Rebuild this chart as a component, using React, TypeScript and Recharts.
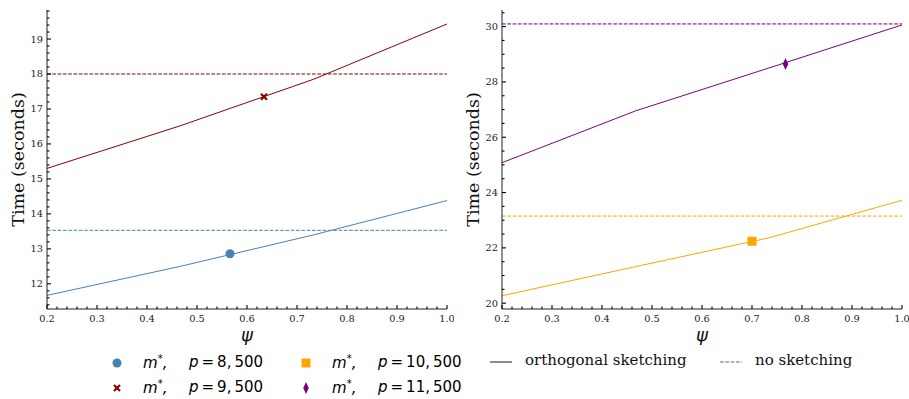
import React from "react";
import {
  ComposedChart,
  Line,
  Scatter,
  XAxis,
  YAxis,
  ReferenceLine,
} from "recharts";

// psi grid used for the orthogonal sketching curves
const PSI = [0.2, 0.4667, 0.7333, 1.0];
const T_8500 = [11.67, 12.5, 13.4, 14.38];
const T_9500 = [15.3, 16.52, 17.85, 19.43];
const T_10500 = [20.27, 21.32, 22.36, 23.72];
const T_11500 = [25.08, 26.95, 28.5, 30.06];

// no sketching baselines
const NOSKETCH_8500 = 13.53;
const NOSKETCH_9500 = 18.0;
const NOSKETCH_10500 = 23.15;
const NOSKETCH_11500 = 30.1;

// optimal m* points (psi, time)
const OPT_8500 = [0.566, 12.86];
const OPT_9500 = [0.634, 17.35];
const OPT_10500 = [0.7, 22.24];
const OPT_11500 = [0.767, 28.65];

const X_MAJOR = [0.2, 0.3, 0.4, 0.5, 0.6, 0.7, 0.8, 0.9, 1.0];
const Y_LEFT_MAJOR = [12, 13, 14, 15, 16, 17, 18, 19];
const Y_RIGHT_MAJOR = [20, 22, 24, 26, 28, 30];

const X_DOMAIN = [0.2, 1.0];
const Y_LEFT_DOMAIN = [11.28, 19.83];
const Y_RIGHT_DOMAIN = [19.79, 30.6];

const BLUE = "#4682b4";
const RED = "#8b0000";
const ORANGE = "#ffa500";
const PURPLE = "#800080";

const SERIF = "'DejaVu Serif', serif";
const MATH = "'DejaVu Sans', sans-serif";

// all ticks (major + minor) between lo and hi with given minor step
const allTicks = (lo: number, hi: number, step: number) => {
  const out: number[] = [];
  const start = Math.ceil(lo / step - 1e-9);
  const end = Math.floor(hi / step + 1e-9);
  for (let i = start; i <= end; i++) out.push(Number((i * step).toFixed(4)));
  return out;
};

const isMajor = (v: number, majors: number[]) =>
  majors.some((m) => Math.abs(m - v) < 1e-6);

const toRows = (xs: number[], ys: number[]) =>
  xs.map((x, i) => ({ psi: x, t: ys[i] }));

const TICK_COLOR = "#222";

const makeTick =
  (side: "bottom" | "top" | "left" | "right", majors: number[], fmt?: (v: number) => string) =>
  (props: any) => {
    const { payload } = props;
    const x = Number(props.x);
    const y = Number(props.y);
    const v = payload.value;
    const major = isMajor(v, majors);
    const len = major ? 4 : 2.5;
    let d = "";
    if (side === "bottom") d = `M${x},${y}V${y - len}`;
    else if (side === "top") d = `M${x},${y}V${y + len}`;
    else if (side === "left") d = `M${x},${y}H${x + len}`;
    else d = `M${x},${y}H${x - len}`;
    let label = null;
    if (major && fmt && side === "bottom")
      label = (
        <text x={x} y={y + 12.5} textAnchor="middle" fontSize={9.8} fontFamily={SERIF} fill={TICK_COLOR}>
          {fmt(v)}
        </text>
      );
    if (major && fmt && side === "left")
      label = (
        <text x={x - 4} y={y + 3.5} textAnchor="end" fontSize={9.8} fontFamily={SERIF} fill={TICK_COLOR}>
          {fmt(v)}
        </text>
      );
    return (
      <g>
        <path d={d} stroke="#000" strokeWidth={1.1} fill="none" />
        {label}
      </g>
    );
  };

const Circle = (p: any) => <circle cx={p.cx} cy={p.cy} r={4.5} fill={BLUE} />;
const Cross = (p: any) => (
  <g stroke={RED} strokeWidth={2.2}>
    <line x1={p.cx - 3} y1={p.cy - 3} x2={p.cx + 3} y2={p.cy + 3} />
    <line x1={p.cx - 3} y1={p.cy + 3} x2={p.cx + 3} y2={p.cy - 3} />
  </g>
);
const Square = (p: any) => (
  <rect x={p.cx - 4.5} y={p.cy - 4.5} width={9} height={9} fill={ORANGE} />
);
const Diamond = (p: any) => (
  <polygon
    points={`${p.cx},${p.cy - 6} ${p.cx + 2.8},${p.cy} ${p.cx},${p.cy + 6} ${p.cx - 2.8},${p.cy}`}
    fill={PURPLE}
  />
);

const yLabel = (props: any) => {
  const vb = props.viewBox;
  const cx = vb.x + 18;
  const cy = vb.y + vb.height / 2;
  return (
    <text
      x={cx}
      y={cy}
      transform={`rotate(-90, ${cx}, ${cy})`}
      textAnchor="middle"
      dominantBaseline="central"
      fontSize={17.5}
      fontFamily={SERIF}
      fill="#111"
    >
      Time (seconds)
    </text>
  );
};

const xLabel = (props: any) => {
  const vb = props.viewBox;
  return (
    <text
      x={vb.x + vb.width / 2}
      y={vb.y + 32}
      textAnchor="middle"
      fontSize={18}
      fontStyle="italic"
      fontFamily={MATH}
      fill="#111"
    >
      ψ
    </text>
  );
};

interface PanelProps {
  left: number;
  yDomain: number[];
  yMajors: number[];
  yMinorStep: number;
  series: { ys: number[]; base: number; opt: number[]; color: string; shape: any; dashOpacity?: number }[];
}

const Panel = ({ left, yDomain, yMajors, yMinorStep, series }: PanelProps) => {
  const xTicks = allTicks(X_DOMAIN[0], X_DOMAIN[1], 0.02);
  const yTicks = allTicks(yDomain[0], yDomain[1], yMinorStep);
  return (
    <div style={{ position: "absolute", left, top: 0 }}>
      <ComposedChart width={454} height={350} margin={{ top: 10, right: 7, left: 0, bottom: 0 }}>
        <XAxis
          xAxisId="top"
          orientation="top"
          type="number"
          dataKey="psi"
          domain={X_DOMAIN}
          ticks={xTicks}
          interval={0}
          height={0}
          tickSize={0}
          tickMargin={0}
          allowDataOverflow
          axisLine={{ stroke: "#222" }}
          tick={makeTick("top", X_MAJOR)}
        />
        <XAxis
          type="number"
          dataKey="psi"
          domain={X_DOMAIN}
          ticks={xTicks}
          interval={0}
          height={41}
          tickSize={0}
          tickMargin={0}
          allowDataOverflow
          axisLine={{ stroke: "#222" }}
          tick={makeTick("bottom", X_MAJOR, (v) => v.toFixed(1))}
          label={{ content: xLabel }}
        />
        <YAxis
          type="number"
          domain={yDomain}
          ticks={yTicks}
          interval={0}
          width={47}
          tickSize={0}
          tickMargin={0}
          allowDataOverflow
          axisLine={{ stroke: "#222" }}
          tick={makeTick("left", yMajors, (v) => String(v))}
          label={{ content: yLabel }}
        />
        <YAxis
          yAxisId="right"
          orientation="right"
          type="number"
          domain={yDomain}
          ticks={yTicks}
          interval={0}
          width={0}
          tickSize={0}
          tickMargin={0}
          allowDataOverflow
          axisLine={{ stroke: "#222" }}
          tick={makeTick("right", yMajors)}
        />
        {series.map((s, i) => (
          <ReferenceLine
            key={`ref-${i}`}
            y={s.base}
            stroke={s.color}
            strokeOpacity={s.dashOpacity ?? 1}
            strokeWidth={s.dashOpacity ? 1.6 : 1}
            strokeDasharray="3.7 1.6"
          />
        ))}
        {series.map((s, i) => (
          <Line
            key={`line-${i}`}
            data={toRows(PSI, s.ys)}
            dataKey="t"
            stroke={s.color}
            strokeWidth={1}
            dot={false}
            isAnimationActive={false}
          />
        ))}
        {series.map((s, i) => (
          <Scatter
            key={`opt-${i}`}
            data={[{ psi: s.opt[0], t: s.opt[1] }]}
            dataKey="t"
            shape={s.shape}
            isAnimationActive={false}
          />
        ))}
      </ComposedChart>
    </div>
  );
};

const Marker = ({ children }: { children: React.ReactNode }) => (
  <svg width={14} height={14} style={{ position: "absolute", left: -7, top: -7 }}>
    {children}
  </svg>
);

const mathLabel = (p: string) => (
  <>
    <span style={{ position: "absolute", left: 0, top: -10, fontFamily: MATH, fontSize: 15, fontStyle: "italic", whiteSpace: "nowrap" }}>
      m<sup style={{ fontSize: 10, fontStyle: "normal" }}>*</sup>,
    </span>
    <span style={{ position: "absolute", left: 46, top: -10, fontFamily: MATH, fontSize: 15, whiteSpace: "nowrap" }}>
      <i>p</i>&thinsp;=&thinsp;{p}
    </span>
  </>
);

const LEGEND_ROWS = [
  { x: 117, y: 363, shape: <Circle cx={7} cy={7} />, p: "8,\u2009500" },
  { x: 117, y: 388, shape: <Cross cx={7} cy={7} />, p: "9,\u2009500" },
  { x: 306, y: 363, shape: <Square cx={7} cy={7} />, p: "10,\u2009500" },
  { x: 306, y: 388, shape: <Diamond cx={7} cy={7} />, p: "11,\u2009500" },
];

export default function App() {
  return (
    <div style={{ position: "relative", width: 909, height: 399, background: "#fff", overflow: "hidden" }}>
      <style>{`body{margin:0}`}</style>
      <Panel
        left={0}
        yDomain={Y_LEFT_DOMAIN}
        yMajors={Y_LEFT_MAJOR}
        yMinorStep={0.2}
        series={[
          { ys: T_8500, base: NOSKETCH_8500, opt: OPT_8500, color: BLUE, shape: Circle },
          { ys: T_9500, base: NOSKETCH_9500, opt: OPT_9500, color: RED, shape: Cross },
        ]}
      />
      <Panel
        left={455}
        yDomain={Y_RIGHT_DOMAIN}
        yMajors={Y_RIGHT_MAJOR}
        yMinorStep={0.5}
        series={[
          { ys: T_10500, base: NOSKETCH_10500, opt: OPT_10500, color: ORANGE, shape: Square },
          { ys: T_11500, base: NOSKETCH_11500, opt: OPT_11500, color: PURPLE, shape: Diamond, dashOpacity: 0.6 },
        ]}
      />
      {LEGEND_ROWS.map((r, i) => (
        <div key={i} style={{ position: "absolute", left: r.x, top: r.y }}>
          <Marker>{r.shape}</Marker>
          <div style={{ position: "absolute", left: 26, top: 0 }}>{mathLabel(r.p)}</div>
        </div>
      ))}
      <svg width={60} height={10} style={{ position: "absolute", left: 490, top: 357 }}>
        <line x1={0} x2={22} y1={5} y2={5} stroke="#666" strokeWidth={1.5} />
      </svg>
      <span style={{ position: "absolute", left: 525, top: 351, fontFamily: SERIF, fontSize: 15, whiteSpace: "nowrap", color: "#111" }}>
        orthogonal sketching
      </span>
      <svg width={60} height={10} style={{ position: "absolute", left: 720, top: 357 }}>
        <line x1={0} x2={22} y1={5} y2={5} stroke="#666" strokeWidth={1} strokeDasharray="3.7 1.6" />
      </svg>
      <span style={{ position: "absolute", left: 755, top: 351, fontFamily: SERIF, fontSize: 15, whiteSpace: "nowrap", color: "#111" }}>
        no sketching
      </span>
    </div>
  );
}
